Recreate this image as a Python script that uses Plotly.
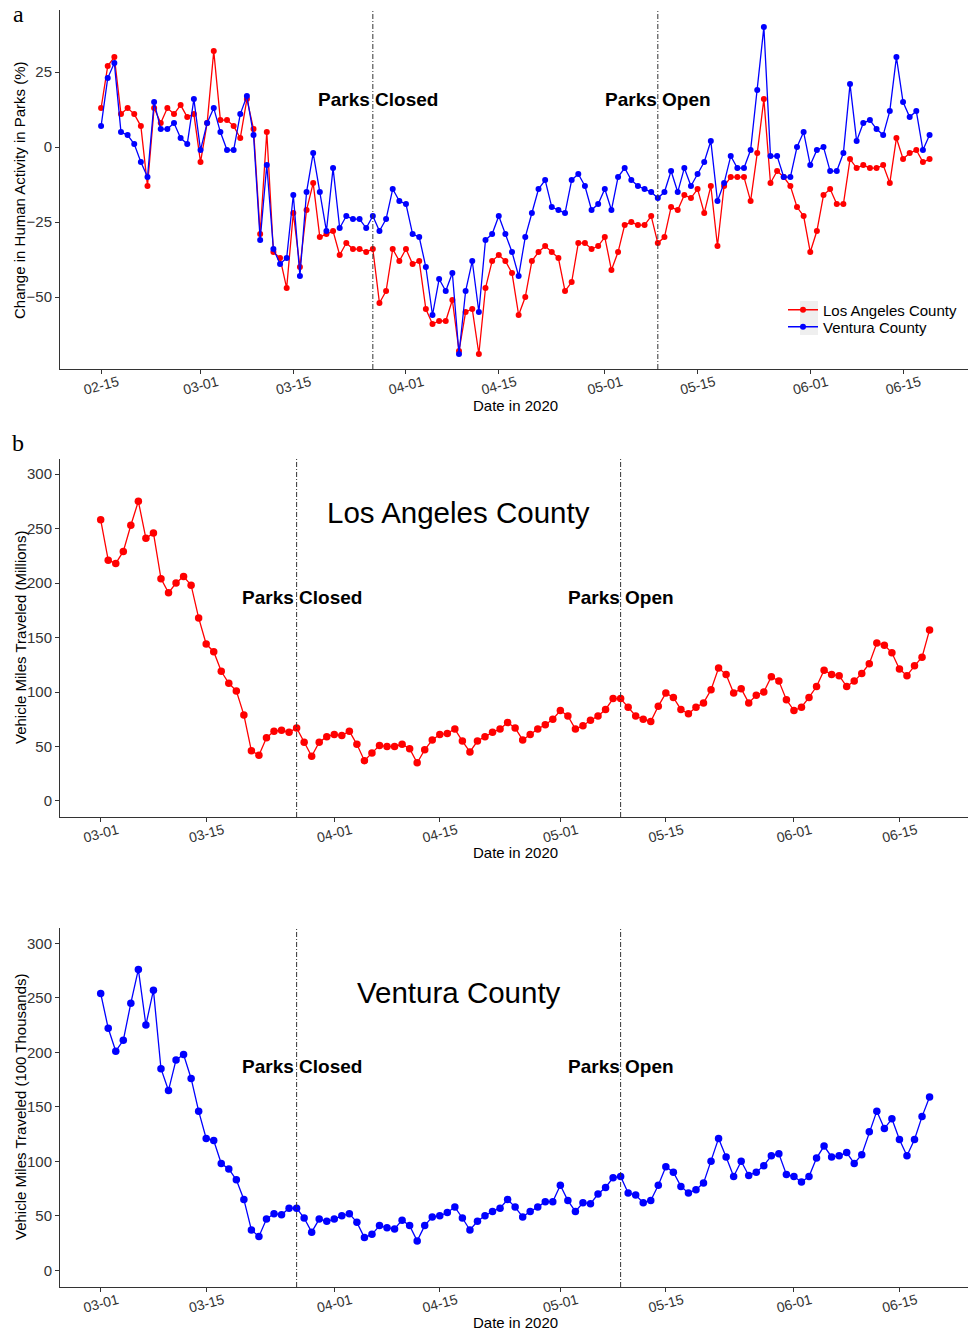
import pandas as pd
import plotly.graph_objects as go

# ---------------- data ----------------
park_start = "2020-02-15"
vmt_start = "2020-03-01"
parks_closed = "2020-03-27"
parks_open = "2020-05-09"

la_park = [13, 27, 30, 11, 13, 11, 7, -13, 13, 8,
           13, 11, 14, 10, 11, -5, 8, 32, 9, 9,
           7, 3, 16, 6, -29, 5, -35, -37, -47, -22,
           -40, -21, -12, -30, -29, -28, -36, -32, -34, -34,
           -35, -34, -52, -48, -34, -38, -34, -39, -38, -54,
           -59, -58, -58, -51, -68, -55, -54, -69, -47, -38,
           -36, -38, -42, -56, -50, -38, -35, -33, -35, -37,
           -48, -45, -32, -32, -34, -33, -30, -41, -35, -26,
           -25, -26, -26, -23, -32, -30, -20, -21, -16, -17,
           -14, -22, -13, -33, -13, -10, -10, -10, -18, -2,
           16, -12, -8, -10, -13, -20, -23, -35, -28, -16,
           -14, -19, -19, -4, -7, -6, -7, -7, -6, -12,
           3, -4, -2, -1, -5, -4]

ventura_park = [7, 23, 28, 5, 4, 1, -5, -10, 15, 6,
                6, 8, 3, 1, 16, -1, 8, 13, 5, -1,
                -1, 11, 17, 4, -31, -6, -34, -39, -37, -16,
                -43, -15, -2, -15, -28, -7, -27, -23, -24, -24,
                -27, -23, -28, -24, -14, -18, -19, -29, -30, -40,
                -56, -44, -48, -42, -69, -48, -38, -55, -31, -29,
                -23, -29, -35, -43, -30, -22, -14, -11, -20, -21,
                -22, -11, -9, -13, -21, -19, -14, -21, -10, -7,
                -11, -13, -14, -15, -17, -15, -8, -15, -7, -13,
                -9, -5, 2, -18, -12, -3, -7, -7, -1, 19,
                40, -3, -3, -10, -10, 0, 5, -6, -1, 0,
                -8, -8, -2, 21, 2, 8, 9, 6, 4, 12,
                30, 15, 10, 12, -1, 4]

la_vmt = [258, 221, 218, 229, 253, 275, 241, 246, 204, 191,
          200, 206, 198, 168, 144, 137, 119, 108, 101, 79,
          46, 42, 58, 64, 65, 63, 67, 54, 41, 54,
          59, 61, 60, 64, 52, 37, 44, 51, 50, 50,
          52, 48, 35, 47, 56, 61, 62, 66, 55, 45,
          55, 59, 63, 66, 72, 67, 56, 61, 66, 70,
          75, 83, 78, 66, 69, 74, 78, 84, 94, 94,
          86, 78, 75, 73, 87, 99, 95, 84, 80, 86,
          90, 102, 122, 116, 99, 103, 90, 97, 100, 114,
          110, 93, 83, 86, 95, 105, 120, 116, 115, 105,
          110, 117, 126, 145, 143, 136, 121, 115, 124, 132, 157]

ventura_vmt = [254, 222, 201, 211, 245, 276, 225, 257, 185, 165,
               193, 198, 176, 146, 121, 119, 98, 93, 83, 65,
               37, 31, 47, 52, 51, 57, 57, 48, 35, 47,
               45, 47, 50, 52, 44, 30, 33, 41, 39, 38,
               46, 41, 27, 41, 49, 50, 53, 58, 48, 37,
               45, 50, 54, 57, 65, 58, 49, 54, 58, 63,
               63, 78, 64, 54, 62, 61, 70, 76, 85, 86,
               71, 69, 62, 64, 78, 95, 90, 77, 71, 74,
               80, 100, 121, 104, 86, 100, 87, 90, 96, 105,
               107, 88, 86, 81, 86, 103, 114, 104, 105, 108,
               98, 106, 127, 146, 130, 139, 120, 105, 120, 141, 159]

park_tickvals = ["2020-02-15", "2020-03-01", "2020-03-15", "2020-04-01", "2020-04-15",
                 "2020-05-01", "2020-05-15", "2020-06-01", "2020-06-15"]
park_ticktext = ["02-15", "03-01", "03-15", "04-01", "04-15", "05-01", "05-15", "06-01", "06-15"]
vmt_tickvals = park_tickvals[1:]
vmt_ticktext = park_ticktext[1:]

park_dates = pd.date_range(park_start, periods=len(la_park), freq="D")
vmt_dates = pd.date_range(vmt_start, periods=len(la_vmt), freq="D")

RED = "#FF0000"
BLUE = "#0000FF"
SANS = "Liberation Sans, Arial, sans-serif"
SERIF = "Liberation Serif, Times New Roman, serif"

fig = go.Figure()

fig.add_trace(go.Scatter(x=park_dates, y=la_park, mode="lines+markers", name="Los Angeles County",
                         line=dict(color=RED, width=1.3), marker=dict(color=RED, size=6),
                         xaxis="x", yaxis="y", legend="legend"))
fig.add_trace(go.Scatter(x=park_dates, y=ventura_park, mode="lines+markers", name="Ventura County",
                         line=dict(color=BLUE, width=1.3), marker=dict(color=BLUE, size=6),
                         xaxis="x", yaxis="y", legend="legend2"))
fig.add_trace(go.Scatter(x=vmt_dates, y=la_vmt, mode="lines+markers", showlegend=False,
                         line=dict(color=RED, width=1.3), marker=dict(color=RED, size=7.5),
                         xaxis="x2", yaxis="y2"))
fig.add_trace(go.Scatter(x=vmt_dates, y=ventura_vmt, mode="lines+markers", showlegend=False,
                         line=dict(color=BLUE, width=1.3), marker=dict(color=BLUE, size=7.5),
                         xaxis="x3", yaxis="y3"))

# geometry (pixels -> paper)
H_PLOT_TOP = 10
H_PLOT_BOT = 1287
PH = H_PLOT_BOT - H_PLOT_TOP
def py(p):
    return (H_PLOT_BOT - p) / PH
def px(p):
    return (p - 60) / 908

xaxis_common = dict(showline=True, linecolor="#333333", linewidth=1, ticks="outside", ticklen=4,
                    tickcolor="#333333", showgrid=False, zeroline=False, tickangle=-15,
                    ticklabelshift=17, ticklabelstandoff=-5,
                    tickfont=dict(family=SANS, size=14, color="#333333"))
yaxis_common = dict(showline=True, linecolor="#333333", linewidth=1, ticks="outside", ticklen=4,
                    tickcolor="#333333", showgrid=False, zeroline=False,
                    tickfont=dict(family=SANS, size=15, color="#333333"))

park_start_ts = pd.Timestamp(park_start)
vmt_start_ts = pd.Timestamp(vmt_start)
xr_a = [park_start_ts - pd.Timedelta(hours=6.2 * 24), park_start_ts + pd.Timedelta(hours=130.8 * 24)]
xr_b = [vmt_start_ts - pd.Timedelta(hours=5.4 * 24), vmt_start_ts + pd.Timedelta(hours=115.1 * 24)]

legend_common = dict(xanchor="left", yanchor="middle", bgcolor="rgba(0,0,0,0)",
                     font=dict(family=SANS, size=15, color="black"), itemwidth=30)

fig.update_layout(
    width=968, height=1332,
    margin=dict(l=60, r=0, t=H_PLOT_TOP, b=1332 - H_PLOT_BOT),
    paper_bgcolor="white", plot_bgcolor="white",
    font=dict(family=SANS, color="black"),
    xaxis=dict(domain=[0, 1], anchor="y", range=xr_a, tickvals=park_tickvals, ticktext=park_ticktext,
               **xaxis_common),
    yaxis=dict(domain=[py(369), 1], anchor="x", range=[-74, 45.7], tickvals=[-50, -25, 0, 25],
               **yaxis_common),
    xaxis2=dict(domain=[0, 1], anchor="y2", range=xr_b, tickvals=vmt_tickvals, ticktext=vmt_ticktext,
                **xaxis_common),
    yaxis2=dict(domain=[py(817), py(459)], anchor="x2", range=[-14.7, 313.8],
                tickvals=[0, 50, 100, 150, 200, 250, 300], **yaxis_common),
    xaxis3=dict(domain=[0, 1], anchor="y3", range=xr_b, tickvals=vmt_tickvals, ticktext=vmt_ticktext,
                **xaxis_common),
    yaxis3=dict(domain=[0, py(928)], anchor="x3", range=[-15.3, 314],
                tickvals=[0, 50, 100, 150, 200, 250, 300], **yaxis_common),
    legend=dict(x=px(783), y=py(310), **legend_common),
    legend2=dict(x=px(783), y=py(327), **legend_common),
)

# vertical dash-dot lines
for xa, ya in [("x", "y"), ("x2", "y2"), ("x3", "y3")]:
    for d in [parks_closed, parks_open]:
        fig.add_shape(type="line", xref=xa, yref=ya + " domain", x0=d, x1=d, y0=0, y1=1,
                      line=dict(color="#333333", width=1, dash="5px,2px,1px,2px"))

ann = []
bold = dict(family=SANS, size=19, color="black")
big = dict(family=SANS, size=29.5, color="black")
# panel a
ann.append(dict(x=parks_closed, y=15.7, xref="x", yref="y", text="<b>Parks Closed</b>", showarrow=False,
                font=bold, xshift=5))
ann.append(dict(x=parks_open, y=15.7, xref="x", yref="y", text="<b>Parks Open</b>", showarrow=False, font=bold))
# panel b
ann.append(dict(x=parks_closed, y=187, xref="x2", yref="y2", text="<b>Parks Closed</b>", showarrow=False,
                font=bold, xshift=5))
ann.append(dict(x=parks_open, y=187, xref="x2", yref="y2", text="<b>Parks Open</b>", showarrow=False, font=bold))
ann.append(dict(x="2020-04-17 12:00", y=265, xref="x2", yref="y2", text="Los Angeles County", showarrow=False,
                font=big))
# panel c
ann.append(dict(x=parks_closed, y=186.6, xref="x3", yref="y3", text="<b>Parks Closed</b>", showarrow=False,
                font=bold, xshift=5))
ann.append(dict(x=parks_open, y=186.6, xref="x3", yref="y3", text="<b>Parks Open</b>", showarrow=False, font=bold))
ann.append(dict(x="2020-04-17 12:00", y=254.6, xref="x3", yref="y3", text="Ventura County", showarrow=False,
                font=big))

# axis titles
title_font = dict(family=SANS, size=15, color="black")
for ycen_px in [406, 853, 1322]:
    ann.append(dict(x=px(515), y=py(ycen_px), xref="paper", yref="paper", text="Date in 2020",
                    showarrow=False, font=title_font, xanchor="center", yanchor="middle"))
for text, ycen_px, xpx in [("Change in Human Activity in Parks (%)", 190, 19),
                           ("Vehicle Miles Traveled (Millions)", 638, 20),
                           ("Vehicle Miles Traveled (100 Thousands)", 1107, 20)]:
    ann.append(dict(x=px(xpx), y=py(ycen_px), xref="paper", yref="paper", text=text,
                    showarrow=False, font=title_font, textangle=-90, xanchor="center", yanchor="middle"))

# panel letters
ann.append(dict(x=px(18), y=py(14), xref="paper", yref="paper", text="a", showarrow=False,
                font=dict(family=SERIF, size=24, color="black"), xanchor="center", yanchor="middle"))
ann.append(dict(x=px(18), y=py(443), xref="paper", yref="paper", text="b", showarrow=False,
                font=dict(family=SERIF, size=24, color="black"), xanchor="center", yanchor="middle"))

fig.update_layout(annotations=ann)

# legend key background
fig.add_shape(type="rect", xref="paper", yref="paper", x0=px(800), x1=px(818),
              y0=py(335), y1=py(301), fillcolor="#efefef", line=dict(width=0), layer="below")

fig.write_html("out.html", config={"displayModeBar": False},
               post_script="document.body.style.margin='0px';")
